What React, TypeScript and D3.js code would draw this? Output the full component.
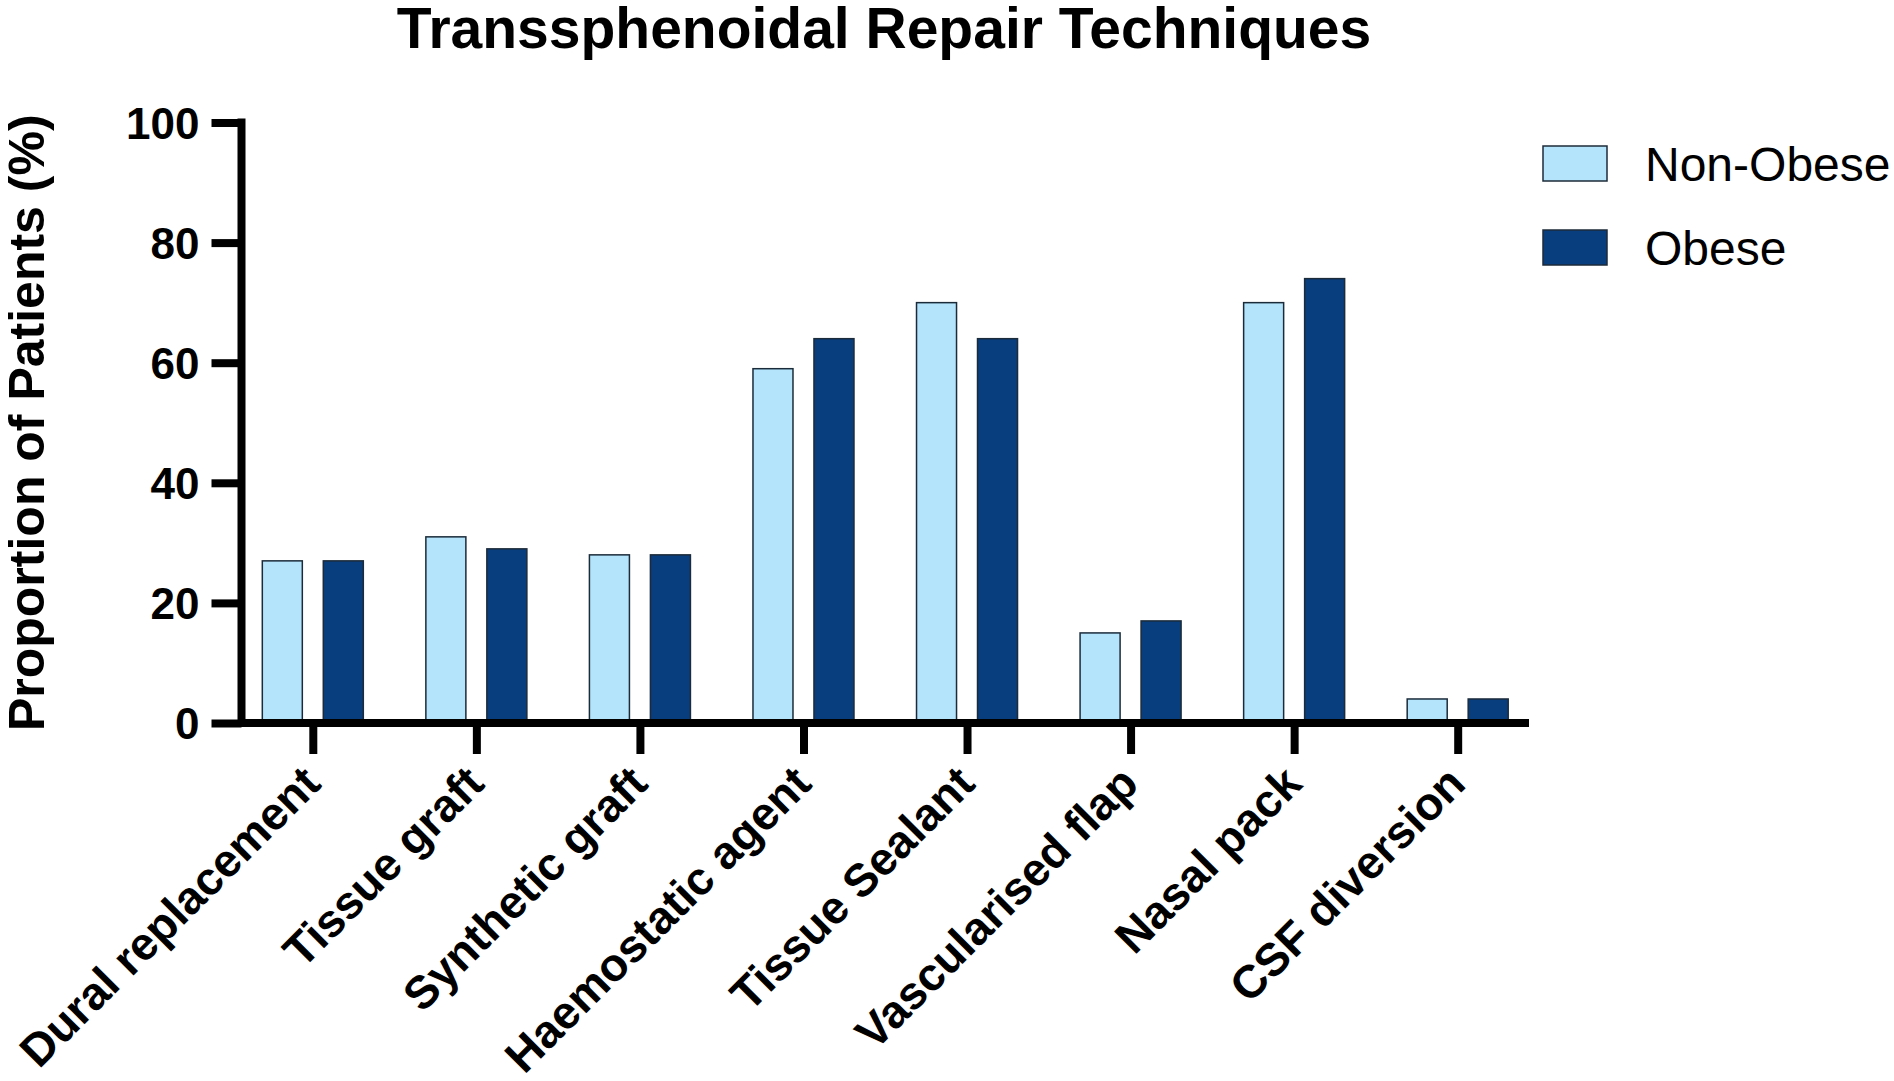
import { useEffect, useRef } from 'react';
import * as d3 from 'd3';

const categories = [
  'Dural replacement',
  'Tissue graft',
  'Synthetic graft',
  'Haemostatic agent',
  'Tissue Sealant',
  'Vascularised flap',
  'Nasal pack',
  'CSF diversion',
];
const series = ['Non-Obese', 'Obese'];
const nonObese = [27, 31, 28, 59, 70, 15, 70, 4];
const obese = [27, 29, 28, 64, 64, 17, 74, 4];
const yTicks = [0, 20, 40, 60, 80, 100];

const colors: Record<string, string> = { 'Non-Obese': '#b3e4fb', Obese: '#083d7e' };
const FONT = '"Liberation Sans", Arial, Helvetica, sans-serif';

export default function App() {
  const svgRef = useRef<SVGSVGElement>(null);

  useEffect(() => {
    document.body.style.margin = '0';
    if (!svgRef.current) return;
    const svg = d3.select(svgRef.current);
    svg.selectAll('*').remove();

    const W = 1894, H = 1081;
    const x0 = 241.5, x1 = 1529, yTop = 122.5, yBot = 723;
    svg.attr('width', W).attr('height', H);

    const x = d3.scalePoint<string>().domain(categories).range([x0, x1]).padding(0.436);
    const xs = d3.scaleBand<string>().domain(series).range([-50.5, 50.5]).paddingInner(0.344);
    const y = d3.scaleLinear().domain([0, 100]).range([yBot, yTop]);

    const rows = categories.map((c, i) => ({ cat: c, values: [nonObese[i], obese[i]] }));

    // title
    svg.append('text')
      .attr('x', 884).attr('y', 48)
      .attr('text-anchor', 'middle')
      .attr('font-family', FONT).attr('font-weight', 700).attr('font-size', 57)
      .text('Transsphenoidal Repair Techniques');

    // bars
    const groups = svg.append('g').selectAll('g')
      .data(rows).enter().append('g')
      .attr('transform', d => `translate(${x(d.cat)},0)`);

    groups.selectAll('rect')
      .data(d => d.values.map((v, i) => ({ s: series[i], v })))
      .enter().append('rect')
      .attr('x', d => xs(d.s)!)
      .attr('width', xs.bandwidth())
      .attr('y', d => y(d.v))
      .attr('height', d => y(0) - y(d.v))
      .attr('fill', d => colors[d.s])
      .attr('stroke', '#1c2b3a').attr('stroke-width', 1.5);

    // y axis
    const yAxis = svg.append('g').attr('transform', `translate(${x0},0)`)
      .call(d3.axisLeft(y).tickValues(yTicks).tickSize(30).tickPadding(12).tickFormat(d3.format('d')));
    yAxis.select('.domain').remove();
    yAxis.selectAll('line').attr('stroke', '#000').attr('stroke-width', 8);
    yAxis.selectAll('text')
      .attr('fill', '#000').attr('font-family', FONT).attr('font-weight', 700).attr('font-size', 44)
      .attr('dy', '0.36em');
    svg.append('line')
      .attr('x1', x0).attr('x2', x0).attr('y1', yTop - 4).attr('y2', yBot + 4)
      .attr('stroke', '#000').attr('stroke-width', 8);

    // x axis
    const xAxis = svg.append('g').attr('transform', `translate(0,${yBot})`)
      .call(d3.axisBottom(x).tickSize(31).tickFormat(() => ''));
    xAxis.select('.domain').remove();
    xAxis.selectAll('line').attr('stroke', '#000').attr('stroke-width', 8);
    svg.append('line')
      .attr('x1', x0).attr('x2', x1).attr('y1', yBot).attr('y2', yBot)
      .attr('stroke', '#000').attr('stroke-width', 8);

    svg.append('g').selectAll('text')
      .data(categories).enter().append('text')
      .attr('transform', d => `translate(${x(d)! + 10},786) rotate(-45)`)
      .attr('text-anchor', 'end')
      .attr('font-family', FONT).attr('font-weight', 700).attr('font-size', 46)
      .text(d => d);

    // y title
    svg.append('text')
      .attr('transform', `translate(44,${(yTop + yBot) / 2}) rotate(-90)`)
      .attr('text-anchor', 'middle')
      .attr('font-family', FONT).attr('font-weight', 700).attr('font-size', 50)
      .text('Proportion of Patients (%)');

    // legend
    const legend = svg.append('g').selectAll('g')
      .data(series).enter().append('g')
      .attr('transform', (_, i) => `translate(1543,${146 + i * 84})`);
    legend.append('rect')
      .attr('width', 64).attr('height', 35)
      .attr('fill', d => colors[d])
      .attr('stroke', '#1c2b3a').attr('stroke-width', 1.5);
    legend.append('text')
      .attr('x', 102).attr('y', 35)
      .attr('font-family', FONT).attr('font-size', 48)
      .text(d => d);
  }, []);

  return <svg ref={svgRef} style={{ display: 'block' }} />;
}
